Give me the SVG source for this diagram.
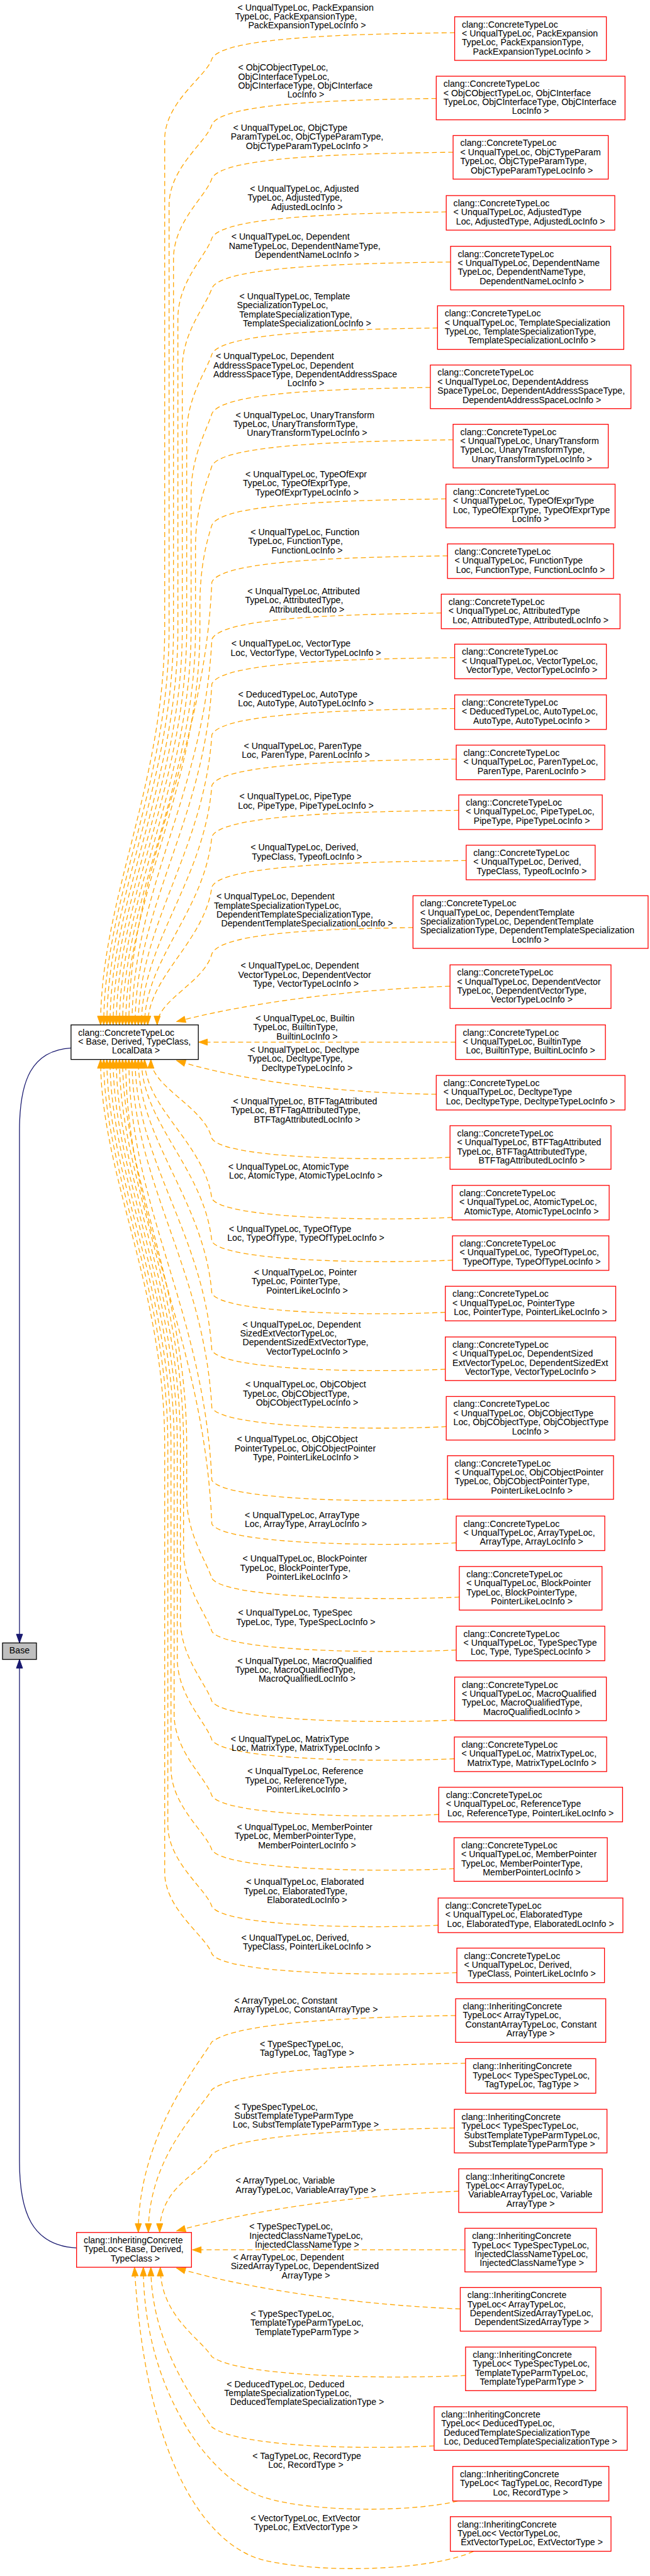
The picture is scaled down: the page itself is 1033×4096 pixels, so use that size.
<svg xmlns="http://www.w3.org/2000/svg" width="1033" height="4096" viewBox="0 0 1033 4096" xml:space="preserve">
<style>
text{font-family:"Liberation Sans",Arial,Helvetica,sans-serif;font-size:14.2px;fill:#000;white-space:pre}
.m{text-anchor:middle}
.n rect{fill:#fff;stroke:#f00;stroke-width:1.3}
.k rect{fill:#fff;stroke:#000;stroke-width:1.3}
.b rect{fill:#bfbfbf;stroke:#000;stroke-width:1.3}
.e{fill:none;stroke:#ffa500;stroke-width:1.3;stroke-dasharray:8,5;marker-end:url(#ao)}
.s{fill:none;stroke:#191970;stroke-width:1.3;marker-end:url(#ab)}
</style>
<defs>
<marker id="ao" markerUnits="userSpaceOnUse" markerWidth="16" markerHeight="12" viewBox="0 0 16 12" refX="15" refY="6" orient="auto"><path d="M1,1 L15,6 L1,11 z" fill="#ffa500" stroke="#ffa500" stroke-width="1" stroke-dasharray="none"/></marker>
<marker id="ab" markerUnits="userSpaceOnUse" markerWidth="16" markerHeight="12" viewBox="0 0 16 12" refX="15" refY="6" orient="auto"><path d="M1,1 L15,6 L1,11 z" fill="#191970" stroke="#191970" stroke-width="1"/></marker>
</defs>
<g transform="scale(0.999)">
<g id="edges">
<path class="s" d="M113,1668 C50,1672 31,1720 31,1800 L31,2615"/>
<path class="s" d="M121.8,3578 C50,3574 31,3520 31,3440 L31,2641.2"/>
<path class="e" d="M723.3,52 C597.6,54 352,56 337,94 C328,122 262,162 262,222 L262,1000 C262,1250 160,1430 160,1631.3"/>
<path class="e" d="M694,156.7 C580,158.7 352,160.7 337,198.7 C328,226.7 269,266.7 269,326.7 L269,1000 C269,1250 165,1430 165,1631.3"/>
<path class="e" d="M720.8,242.3 C596.1,244.3 352,246.3 337,284.3 C328,312.3 276,352.3 276,412.3 L276,1000 C276,1250 170,1430 170,1631.3"/>
<path class="e" d="M709.9,337.3 C589.5,339.3 352,341.3 337,379.3 C328,407.3 283,447.3 283,507.3 L283,1000 C283,1250 175,1430 175,1631.3"/>
<path class="e" d="M716.8,417 C593.7,419 352,421 337,459 C328,487 290,527 290,587 L290,1000 C290,1250 180,1430 180,1631.3"/>
<path class="e" d="M696,522 C581.2,524 352,526 337,564 C328,592 297,632 297,692 L297,1000 C297,1250 185,1430 185,1631.3"/>
<path class="e" d="M684.6,616.7 C574.4,618.7 352,620.7 337,658.7 C328,686.7 304,726.7 304,786.7 L304,1000 C304,1250 190,1430 190,1631.3"/>
<path class="e" d="M720.8,700 C596.1,702 352,704 337,742 C328,770 311,810 311,870 L311,1000 C311,1250 195,1430 195,1631.3"/>
<path class="e" d="M709.4,794 C589.2,796 352,798 337,836 C328,864 318,904 318,964 L318,1000 C318,1250 200,1430 200,1631.3"/>
<path class="e" d="M711.9,884.7 C590.7,886.7 352,888.7 337,926.7 C325,1208.5 205,1384.7 205,1631.3"/>
<path class="e" d="M702,975.7 C584.8,977.7 352,979.7 337,1017.7 C325,1263.1 210,1416.5 210,1631.3"/>
<path class="e" d="M723.3,1046.7 C597.6,1048.7 352,1050.7 337,1088.7 C325,1305.7 215,1441.4 215,1631.3"/>
<path class="e" d="M723.3,1127.7 C597.6,1129.7 352,1131.7 337,1169.7 C325,1354.3 220,1469.7 220,1631.3"/>
<path class="e" d="M725.8,1208.3 C599.1,1210.3 352,1212.3 337,1250.3 C325,1402.7 225,1497.9 225,1631.3"/>
<path class="e" d="M729.7,1289.7 C601.4,1291.7 352,1293.7 337,1331.7 C325,1451.5 230,1526.4 230,1631.3"/>
<path class="e" d="M741.6,1369.7 C608.6,1371.7 352,1373.7 337,1411.7 C325,1499.5 235,1554.4 235,1631.3"/>
<path class="e" d="M657,1476.3 C557.4,1478.3 352,1480.3 337,1518.3 C325,1563.5 250,1591.8 250,1631.3"/>
<path class="e" d="M715.9,1569.7 C560,1575 400,1595 281,1626"/>
<path class="e" d="M724.8,1658.7 L316,1658.7"/>
<path class="e" d="M694,1741.7 C560,1740 400,1725 281,1688"/>
<path class="e" d="M715.9,1842 C593.1,1848 355,1844 337,1812 C325,1761.7 240,1730.3 240,1686.3"/>
<path class="e" d="M719.3,1937.7 C595.2,1943.7 355,1939.7 337,1907.7 C325,1819.1 230,1763.8 230,1686.3"/>
<path class="e" d="M719.8,2005.7 C595.5,2011.7 355,2007.7 337,1975.7 C325,1860 225,1787.6 225,1686.3"/>
<path class="e" d="M708.4,2088.7 C588.6,2094.7 355,2090.7 337,2058.7 C325,1909.7 220,1816.6 220,1686.3"/>
<path class="e" d="M708.4,2179.3 C588.6,2185.3 355,2181.3 337,2149.3 C325,1964.1 215,1848.4 215,1686.3"/>
<path class="e" d="M709.9,2270.7 C589.5,2276.7 355,2272.7 337,2240.7 C325,2019 210,1880.3 210,1686.3"/>
<path class="e" d="M711.9,2386 C590.7,2392 355,2388 337,2356 C325,2088.1 205,1920.7 205,1686.3"/>
<path class="e" d="M725.8,2455.7 C599.1,2461.7 355,2457.7 337,2425.7 C325,2130 200,1945.1 200,1686.3"/>
<path class="e" d="M730.7,2542 C602,2548 355,2544 337,2512 C328,2484 297,2442 297,2382 L297,2300 C297,2050 195,1870 195,1686.3"/>
<path class="e" d="M725.8,2626.3 C599.1,2632.3 355,2628.3 337,2596.3 C328,2568.3 292,2526.3 292,2466.3 L292,2300 C292,2050 190,1870 190,1686.3"/>
<path class="e" d="M723.3,2737.7 C597.6,2743.7 355,2739.7 337,2707.7 C328,2679.7 287,2637.7 287,2577.7 L287,2300 C287,2050 185,1870 185,1686.3"/>
<path class="e" d="M722.8,2799.3 C597.3,2805.3 355,2801.3 337,2769.3 C328,2741.3 282,2699.3 282,2639.3 L282,2300 C282,2050 180,1870 180,1686.3"/>
<path class="e" d="M698,2888 C582.4,2894 355,2890 337,2858 C328,2830 277,2788 277,2728 L277,2300 C277,2050 175,1870 175,1686.3"/>
<path class="e" d="M722.3,2974.3 C597,2980.3 355,2976.3 337,2944.3 C328,2916.3 272,2874.3 272,2814.3 L272,2300 C272,2050 170,1870 170,1686.3"/>
<path class="e" d="M697,3064.3 C581.8,3070.3 355,3066.3 337,3034.3 C328,3006.3 267,2964.3 267,2904.3 L267,2300 C267,2050 165,1870 165,1686.3"/>
<path class="e" d="M726.8,3139.7 C599.7,3145.7 355,3141.7 337,3109.7 C328,3081.7 262,3039.7 262,2979.7 L262,2300 C262,2050 160,1870 160,1686.3"/>
<path class="e" d="M724.8,3208 C598.5,3210 380,3216 337,3250 C318,3283 220,3397.9 220,3553.3"/>
<path class="e" d="M740.6,3284 C608,3286 380,3292 337,3326 C318,3359 236,3432.1 236,3553.3"/>
<path class="e" d="M722.8,3387 C597.3,3389 380,3395 337,3429 C318,3462 254,3478.5 254,3553.3"/>
<path class="e" d="M729.7,3487.7 C600,3492 420,3512 281,3551"/>
<path class="e" d="M739.6,3581 L306,3581"/>
<path class="e" d="M732.2,3675 C600,3670 420,3650 281,3610"/>
<path class="e" d="M740.6,3781 C608,3787 380,3783 337,3751 C318,3721 255,3686.2 255,3608.7"/>
<path class="e" d="M690.6,3893 C578,3899 380,3895 337,3863 C318,3833 240,3736.6 240,3608.7"/>
<path class="e" d="M728,3980.7 C660,3998 500,4000 420,3975 C330,3945 228,3800 228,3608.7"/>
<path class="e" d="M753,4061 C690,4090 520,4098 420,4075 C320,4050 230,3900 214,3608.7"/>
</g>
<g id="labels">
<text x="374" y="16.7"> &lt; UnqualTypeLoc, PackExpansion</text><text x="374" y="31.1">TypeLoc, PackExpansionType,</text><text class="m" x="486.5" y="45.5"> PackExpansionTypeLocInfo &gt;</text>
<text x="375" y="112.3"> &lt; ObjCObjectTypeLoc,</text><text x="375" y="126.7"> ObjCInterfaceTypeLoc,</text><text x="375" y="141.1"> ObjCInterfaceType, ObjCInterface</text><text class="m" x="486.5" y="155.5">LocInfo &gt;</text>
<text x="367" y="208.3"> &lt; UnqualTypeLoc, ObjCType</text><text x="367" y="222.7">ParamTypeLoc, ObjCTypeParamType,</text><text class="m" x="486.5" y="237.1"> ObjCTypeParamTypeLocInfo &gt;</text>
<text x="393.8" y="305.3"> &lt; UnqualTypeLoc, Adjusted</text><text x="393.8" y="319.7">TypeLoc, AdjustedType,</text><text class="m" x="486.5" y="334.1"> AdjustedLocInfo &gt;</text>
<text x="364.1" y="381.7"> &lt; UnqualTypeLoc, Dependent</text><text x="364.1" y="396.1">NameTypeLoc, DependentNameType,</text><text class="m" x="486.5" y="410.5"> DependentNameLocInfo &gt;</text>
<text x="376.9" y="476.3"> &lt; UnqualTypeLoc, Template</text><text x="376.9" y="490.7">SpecializationTypeLoc,</text><text x="376.9" y="505.1"> TemplateSpecializationType,</text><text class="m" x="486.5" y="519.5"> TemplateSpecializationLocInfo &gt;</text>
<text x="339.3" y="571.7"> &lt; UnqualTypeLoc, Dependent</text><text x="339.3" y="586.1">AddressSpaceTypeLoc, Dependent</text><text x="339.3" y="600.5">AddressSpaceType, DependentAddressSpace</text><text class="m" x="486.5" y="614.9">LocInfo &gt;</text>
<text x="371" y="665.3"> &lt; UnqualTypeLoc, UnaryTransform</text><text x="371" y="679.7">TypeLoc, UnaryTransformType,</text><text class="m" x="486.5" y="694.1"> UnaryTransformTypeLocInfo &gt;</text>
<text x="386.4" y="759.7"> &lt; UnqualTypeLoc, TypeOfExpr</text><text x="386.4" y="774.1">TypeLoc, TypeOfExprType,</text><text class="m" x="486.5" y="788.5"> TypeOfExprTypeLocInfo &gt;</text>
<text x="394.8" y="851.7"> &lt; UnqualTypeLoc, Function</text><text x="394.8" y="866.1">TypeLoc, FunctionType,</text><text class="m" x="486.5" y="880.5"> FunctionLocInfo &gt;</text>
<text x="389.8" y="945.7"> &lt; UnqualTypeLoc, Attributed</text><text x="389.8" y="960.1">TypeLoc, AttributedType,</text><text class="m" x="486.5" y="974.5"> AttributedLocInfo &gt;</text>
<text x="364.1" y="1029.3"> &lt; UnqualTypeLoc, VectorType</text><text class="m" x="486.5" y="1043.7">Loc, VectorType, VectorTypeLocInfo &gt;</text>
<text x="375" y="1109.7"> &lt; DeducedTypeLoc, AutoType</text><text class="m" x="486.5" y="1124.1">Loc, AutoType, AutoTypeLocInfo &gt;</text>
<text x="383.9" y="1191.7"> &lt; UnqualTypeLoc, ParenType</text><text class="m" x="486.5" y="1206.1">Loc, ParenType, ParenLocInfo &gt;</text>
<text x="376.9" y="1272.7"> &lt; UnqualTypeLoc, PipeType</text><text class="m" x="486.5" y="1287.1">Loc, PipeType, PipeTypeLocInfo &gt;</text>
<text x="394.8" y="1353.7"> &lt; UnqualTypeLoc, Derived,</text><text class="m" x="486.5" y="1368.1"> TypeClass, TypeofLocInfo &gt;</text>
<text x="340.3" y="1431.7"> &lt; UnqualTypeLoc, Dependent</text><text x="340.3" y="1446.1">TemplateSpecializationTypeLoc,</text><text x="340.3" y="1460.5"> DependentTemplateSpecializationType,</text><text class="m" x="486.5" y="1474.9"> DependentTemplateSpecializationLocInfo &gt;</text>
<text x="378.9" y="1541.7"> &lt; UnqualTypeLoc, Dependent</text><text x="378.9" y="1556.1">VectorTypeLoc, DependentVector</text><text class="m" x="486.5" y="1570.5">Type, VectorTypeLocInfo &gt;</text>
<text x="402.7" y="1625.7"> &lt; UnqualTypeLoc, Builtin</text><text x="402.7" y="1640.1">TypeLoc, BuiltinType,</text><text class="m" x="486.5" y="1654.5"> BuiltinLocInfo &gt;</text>
<text x="393.8" y="1675.7"> &lt; UnqualTypeLoc, Decltype</text><text x="393.8" y="1690.1">TypeLoc, DecltypeType,</text><text class="m" x="486.5" y="1704.5"> DecltypeTypeLocInfo &gt;</text>
<text x="367" y="1757.7"> &lt; UnqualTypeLoc, BTFTagAttributed</text><text x="367" y="1772.1">TypeLoc, BTFTagAttributedType,</text><text class="m" x="486.5" y="1786.5"> BTFTagAttributedLocInfo &gt;</text>
<text x="359.1" y="1861.7"> &lt; UnqualTypeLoc, AtomicType</text><text class="m" x="486.5" y="1876.1">Loc, AtomicType, AtomicTypeLocInfo &gt;</text>
<text x="360.1" y="1961"> &lt; UnqualTypeLoc, TypeOfType</text><text class="m" x="486.5" y="1975.4">Loc, TypeOfType, TypeOfTypeLocInfo &gt;</text>
<text x="400.2" y="2030"> &lt; UnqualTypeLoc, Pointer</text><text x="400.2" y="2044.4">TypeLoc, PointerType,</text><text class="m" x="486.5" y="2058.8"> PointerLikeLocInfo &gt;</text>
<text x="381.9" y="2112.7"> &lt; UnqualTypeLoc, Dependent</text><text x="381.9" y="2127.1">SizedExtVectorTypeLoc,</text><text x="381.9" y="2141.5"> DependentSizedExtVectorType,</text><text class="m" x="486.5" y="2155.9"> VectorTypeLocInfo &gt;</text>
<text x="386.4" y="2208.7"> &lt; UnqualTypeLoc, ObjCObject</text><text x="386.4" y="2223.1">TypeLoc, ObjCObjectType,</text><text class="m" x="486.5" y="2237.5"> ObjCObjectTypeLocInfo &gt;</text>
<text x="373" y="2295.7"> &lt; UnqualTypeLoc, ObjCObject</text><text x="373" y="2310.1">PointerTypeLoc, ObjCObjectPointer</text><text class="m" x="486.5" y="2324.5">Type, PointerLikeLocInfo &gt;</text>
<text x="385.4" y="2416.3"> &lt; UnqualTypeLoc, ArrayType</text><text class="m" x="486.5" y="2430.7">Loc, ArrayType, ArrayLocInfo &gt;</text>
<text x="381.9" y="2485.7"> &lt; UnqualTypeLoc, BlockPointer</text><text x="381.9" y="2500.1">TypeLoc, BlockPointerType,</text><text class="m" x="486.5" y="2514.5"> PointerLikeLocInfo &gt;</text>
<text x="375" y="2571.7"> &lt; UnqualTypeLoc, TypeSpec</text><text class="m" x="486.5" y="2586.1">TypeLoc, Type, TypeSpecLocInfo &gt;</text>
<text x="374" y="2648.3"> &lt; UnqualTypeLoc, MacroQualified</text><text x="374" y="2662.7">TypeLoc, MacroQualifiedType,</text><text class="m" x="486.5" y="2677.1"> MacroQualifiedLocInfo &gt;</text>
<text x="363.1" y="2772.7"> &lt; UnqualTypeLoc, MatrixType</text><text class="m" x="486.5" y="2787.1">Loc, MatrixType, MatrixTypeLocInfo &gt;</text>
<text x="389.8" y="2824.3"> &lt; UnqualTypeLoc, Reference</text><text x="389.8" y="2838.7">TypeLoc, ReferenceType,</text><text class="m" x="486.5" y="2853.1"> PointerLikeLocInfo &gt;</text>
<text x="373" y="2912.7"> &lt; UnqualTypeLoc, MemberPointer</text><text x="373" y="2927.1">TypeLoc, MemberPointerType,</text><text class="m" x="486.5" y="2941.5"> MemberPointerLocInfo &gt;</text>
<text x="387.8" y="3000.3"> &lt; UnqualTypeLoc, Elaborated</text><text x="387.8" y="3014.7">TypeLoc, ElaboratedType,</text><text class="m" x="486.5" y="3029.1"> ElaboratedLocInfo &gt;</text>
<text x="379.9" y="3089"> &lt; UnqualTypeLoc, Derived,</text><text class="m" x="486.5" y="3103.4"> TypeClass, PointerLikeLocInfo &gt;</text>
<text x="369" y="3189"> &lt; ArrayTypeLoc, Constant</text><text class="m" x="486.5" y="3203.4">ArrayTypeLoc, ConstantArrayType &gt;</text>
<text x="409.6" y="3258"> &lt; TypeSpecTypeLoc,</text><text class="m" x="486.5" y="3272.4"> TagTypeLoc, TagType &gt;</text>
<text x="369" y="3358"> &lt; TypeSpecTypeLoc,</text><text x="369" y="3372.4"> SubstTemplateTypeParmType</text><text class="m" x="486.5" y="3386.8">Loc, SubstTemplateTypeParmType &gt;</text>
<text x="371" y="3475.7"> &lt; ArrayTypeLoc, Variable</text><text class="m" x="486.5" y="3490.1">ArrayTypeLoc, VariableArrayType &gt;</text>
<text x="392.8" y="3549"> &lt; TypeSpecTypeLoc,</text><text x="392.8" y="3563.4"> InjectedClassNameTypeLoc,</text><text class="m" x="486.5" y="3577.8"> InjectedClassNameType &gt;</text>
<text x="367" y="3597.7"> &lt; ArrayTypeLoc, Dependent</text><text x="367" y="3612.1">SizedArrayTypeLoc, DependentSized</text><text class="m" x="486.5" y="3626.5">ArrayType &gt;</text>
<text x="394.8" y="3687.7"> &lt; TypeSpecTypeLoc,</text><text x="394.8" y="3702.1"> TemplateTypeParmTypeLoc,</text><text class="m" x="486.5" y="3716.5"> TemplateTypeParmType &gt;</text>
<text x="356.6" y="3799.3"> &lt; DeducedTypeLoc, Deduced</text><text x="356.6" y="3813.7">TemplateSpecializationTypeLoc,</text><text class="m" x="486.5" y="3828.1"> DeducedTemplateSpecializationType &gt;</text>
<text x="397.7" y="3913.7"> &lt; TagTypeLoc, RecordType</text><text class="m" x="486.5" y="3928.1">Loc, RecordType &gt;</text>
<text x="394.8" y="4012.7"> &lt; VectorTypeLoc, ExtVector</text><text class="m" x="486.5" y="4027.1">TypeLoc, ExtVectorType &gt;</text>
</g>
<g id="base" class="b"><rect x="4" y="2615" width="54" height="26.2"/><text class="m" x="31" y="2632">Base</text></g>
<g id="concrete" class="k"><rect x="113" y="1631.3" width="202.5" height="55"/><text x="124.4" y="1648.3">clang::ConcreteTypeLoc</text><text x="124.4" y="1662.7">&lt; Base, Derived, TypeClass,</text><text class="m" x="214.3" y="1677.1"> LocalData &gt;</text></g>
<g id="inheriting" class="n"><rect x="121.8" y="3553.3" width="182.8" height="55.4"/><text x="133.2" y="3570.3">clang::InheritingConcrete</text><text x="133.2" y="3584.7">TypeLoc&lt; Base, Derived,</text><text class="m" x="213.2" y="3599.1"> TypeClass &gt;</text></g>
<g id="n1" class="n"><rect x="723.3" y="26.7" width="241.3" height="69.4"/><text x="734.7" y="43.7">clang::ConcreteTypeLoc</text><text x="734.7" y="58.1">&lt; UnqualTypeLoc, PackExpansion</text><text x="734.7" y="72.5">TypeLoc, PackExpansionType,</text><text class="m" x="844" y="86.9"> PackExpansionTypeLocInfo &gt;</text></g>
<g id="n2" class="n"><rect x="694" y="121.3" width="300.3" height="69.4"/><text x="705.4" y="138.3">clang::ConcreteTypeLoc</text><text x="705.4" y="152.7">&lt; ObjCObjectTypeLoc, ObjCInterface</text><text x="705.4" y="167.1">TypeLoc, ObjCInterfaceType, ObjCInterface</text><text class="m" x="844" y="181.5">LocInfo &gt;</text></g>
<g id="n3" class="n"><rect x="720.8" y="215.7" width="246.8" height="69.4"/><text x="732.2" y="232.7">clang::ConcreteTypeLoc</text><text x="732.2" y="247.1">&lt; UnqualTypeLoc, ObjCTypeParam</text><text x="732.2" y="261.5">TypeLoc, ObjCTypeParamType,</text><text class="m" x="844" y="275.9"> ObjCTypeParamTypeLocInfo &gt;</text></g>
<g id="n4" class="n"><rect x="709.9" y="311.3" width="268.1" height="55"/><text x="721.3" y="328.3">clang::ConcreteTypeLoc</text><text x="721.3" y="342.7">&lt; UnqualTypeLoc, AdjustedType</text><text class="m" x="844" y="357.1">Loc, AdjustedType, AdjustedLocInfo &gt;</text></g>
<g id="n5" class="n"><rect x="716.8" y="392" width="254.7" height="69.4"/><text x="728.2" y="409">clang::ConcreteTypeLoc</text><text x="728.2" y="423.4">&lt; UnqualTypeLoc, DependentName</text><text x="728.2" y="437.8">TypeLoc, DependentNameType,</text><text class="m" x="844" y="452.2"> DependentNameLocInfo &gt;</text></g>
<g id="n6" class="n"><rect x="696" y="486.7" width="296.3" height="69.4"/><text x="707.4" y="503.7">clang::ConcreteTypeLoc</text><text x="707.4" y="518.1">&lt; UnqualTypeLoc, TemplateSpecialization</text><text x="707.4" y="532.5">TypeLoc, TemplateSpecializationType,</text><text class="m" x="844" y="546.9"> TemplateSpecializationLocInfo &gt;</text></g>
<g id="n7" class="n"><rect x="684.6" y="581" width="319.1" height="69.4"/><text x="696" y="598">clang::ConcreteTypeLoc</text><text x="696" y="612.4">&lt; UnqualTypeLoc, DependentAddress</text><text x="696" y="626.8">SpaceTypeLoc, DependentAddressSpaceType,</text><text class="m" x="844" y="641.2"> DependentAddressSpaceLocInfo &gt;</text></g>
<g id="n8" class="n"><rect x="720.8" y="675.3" width="246.8" height="69.4"/><text x="732.2" y="692.3">clang::ConcreteTypeLoc</text><text x="732.2" y="706.7">&lt; UnqualTypeLoc, UnaryTransform</text><text x="732.2" y="721.1">TypeLoc, UnaryTransformType,</text><text class="m" x="844" y="735.5"> UnaryTransformTypeLocInfo &gt;</text></g>
<g id="n9" class="n"><rect x="709.4" y="770.7" width="269.1" height="69.4"/><text x="720.8" y="787.7">clang::ConcreteTypeLoc</text><text x="720.8" y="802.1">&lt; UnqualTypeLoc, TypeOfExprType</text><text x="720.8" y="816.5">Loc, TypeOfExprType, TypeOfExprType</text><text class="m" x="844" y="830.9">LocInfo &gt;</text></g>
<g id="n10" class="n"><rect x="711.9" y="865.7" width="264.1" height="55"/><text x="723.3" y="882.7">clang::ConcreteTypeLoc</text><text x="723.3" y="897.1">&lt; UnqualTypeLoc, FunctionType</text><text class="m" x="844" y="911.5">Loc, FunctionType, FunctionLocInfo &gt;</text></g>
<g id="n11" class="n"><rect x="702" y="945.7" width="284.4" height="55"/><text x="713.4" y="962.7">clang::ConcreteTypeLoc</text><text x="713.4" y="977.1">&lt; UnqualTypeLoc, AttributedType</text><text class="m" x="844" y="991.5">Loc, AttributedType, AttributedLocInfo &gt;</text></g>
<g id="n12" class="n"><rect x="723.3" y="1025.3" width="241.3" height="55"/><text x="734.7" y="1042.3">clang::ConcreteTypeLoc</text><text x="734.7" y="1056.7">&lt; UnqualTypeLoc, VectorTypeLoc,</text><text class="m" x="844" y="1071.1"> VectorType, VectorTypeLocInfo &gt;</text></g>
<g id="n13" class="n"><rect x="723.3" y="1106" width="241.3" height="55"/><text x="734.7" y="1123">clang::ConcreteTypeLoc</text><text x="734.7" y="1137.4">&lt; DeducedTypeLoc, AutoTypeLoc,</text><text class="m" x="844" y="1151.8"> AutoType, AutoTypeLocInfo &gt;</text></g>
<g id="n14" class="n"><rect x="725.8" y="1186" width="236.3" height="55"/><text x="737.2" y="1203">clang::ConcreteTypeLoc</text><text x="737.2" y="1217.4">&lt; UnqualTypeLoc, ParenTypeLoc,</text><text class="m" x="844" y="1231.8"> ParenType, ParenLocInfo &gt;</text></g>
<g id="n15" class="n"><rect x="729.7" y="1265.3" width="228.4" height="55"/><text x="741.1" y="1282.3">clang::ConcreteTypeLoc</text><text x="741.1" y="1296.7">&lt; UnqualTypeLoc, PipeTypeLoc,</text><text class="m" x="844" y="1311.1"> PipeType, PipeTypeLocInfo &gt;</text></g>
<g id="n16" class="n"><rect x="741.6" y="1345.3" width="205.2" height="55"/><text x="753" y="1362.3">clang::ConcreteTypeLoc</text><text x="753" y="1376.7">&lt; UnqualTypeLoc, Derived,</text><text class="m" x="844" y="1391.1"> TypeClass, TypeofLocInfo &gt;</text></g>
<g id="n17" class="n"><rect x="657" y="1425.7" width="374" height="83.8"/><text x="668.4" y="1442.7">clang::ConcreteTypeLoc</text><text x="668.4" y="1457.1">&lt; UnqualTypeLoc, DependentTemplate</text><text x="668.4" y="1471.5">SpecializationTypeLoc, DependentTemplate</text><text x="668.4" y="1485.9">SpecializationType, DependentTemplateSpecialization</text><text class="m" x="844" y="1500.3">LocInfo &gt;</text></g>
<g id="n18" class="n"><rect x="715.9" y="1535.7" width="256.1" height="69.4"/><text x="727.3" y="1552.7">clang::ConcreteTypeLoc</text><text x="727.3" y="1567.1">&lt; UnqualTypeLoc, DependentVector</text><text x="727.3" y="1581.5">TypeLoc, DependentVectorType,</text><text class="m" x="844" y="1595.9"> VectorTypeLocInfo &gt;</text></g>
<g id="n19" class="n"><rect x="724.8" y="1631.3" width="238.3" height="55"/><text x="736.2" y="1648.3">clang::ConcreteTypeLoc</text><text x="736.2" y="1662.7">&lt; UnqualTypeLoc, BuiltinType</text><text class="m" x="844" y="1677.1">Loc, BuiltinType, BuiltinLocInfo &gt;</text></g>
<g id="n20" class="n"><rect x="694" y="1711.7" width="300.3" height="55"/><text x="705.4" y="1728.7">clang::ConcreteTypeLoc</text><text x="705.4" y="1743.1">&lt; UnqualTypeLoc, DecltypeType</text><text class="m" x="844" y="1757.5">Loc, DecltypeType, DecltypeTypeLocInfo &gt;</text></g>
<g id="n21" class="n"><rect x="715.9" y="1791.7" width="256.1" height="69.4"/><text x="727.3" y="1808.7">clang::ConcreteTypeLoc</text><text x="727.3" y="1823.1">&lt; UnqualTypeLoc, BTFTagAttributed</text><text x="727.3" y="1837.5">TypeLoc, BTFTagAttributedType,</text><text class="m" x="844" y="1851.9"> BTFTagAttributedLocInfo &gt;</text></g>
<g id="n22" class="n"><rect x="719.3" y="1886.7" width="249.8" height="55"/><text x="730.7" y="1903.7">clang::ConcreteTypeLoc</text><text x="730.7" y="1918.1">&lt; UnqualTypeLoc, AtomicTypeLoc,</text><text class="m" x="844" y="1932.5"> AtomicType, AtomicTypeLocInfo &gt;</text></g>
<g id="n23" class="n"><rect x="719.8" y="1967" width="248.8" height="55"/><text x="731.2" y="1984">clang::ConcreteTypeLoc</text><text x="731.2" y="1998.4">&lt; UnqualTypeLoc, TypeOfTypeLoc,</text><text class="m" x="844" y="2012.8"> TypeOfType, TypeOfTypeLocInfo &gt;</text></g>
<g id="n24" class="n"><rect x="708.4" y="2047.3" width="271.1" height="55"/><text x="719.8" y="2064.3">clang::ConcreteTypeLoc</text><text x="719.8" y="2078.7">&lt; UnqualTypeLoc, PointerType</text><text class="m" x="844" y="2093.1">Loc, PointerType, PointerLikeLocInfo &gt;</text></g>
<g id="n25" class="n"><rect x="708.4" y="2128" width="271.1" height="69.4"/><text x="719.8" y="2145">clang::ConcreteTypeLoc</text><text x="719.8" y="2159.4">&lt; UnqualTypeLoc, DependentSized</text><text x="719.8" y="2173.8">ExtVectorTypeLoc, DependentSizedExt</text><text class="m" x="844" y="2188.2">VectorType, VectorTypeLocInfo &gt;</text></g>
<g id="n26" class="n"><rect x="709.9" y="2222.7" width="268.1" height="69.4"/><text x="721.3" y="2239.7">clang::ConcreteTypeLoc</text><text x="721.3" y="2254.1">&lt; UnqualTypeLoc, ObjCObjectType</text><text x="721.3" y="2268.5">Loc, ObjCObjectType, ObjCObjectType</text><text class="m" x="844" y="2282.9">LocInfo &gt;</text></g>
<g id="n27" class="n"><rect x="711.9" y="2317" width="264.1" height="69.4"/><text x="723.3" y="2334">clang::ConcreteTypeLoc</text><text x="723.3" y="2348.4">&lt; UnqualTypeLoc, ObjCObjectPointer</text><text x="723.3" y="2362.8">TypeLoc, ObjCObjectPointerType,</text><text class="m" x="844" y="2377.2"> PointerLikeLocInfo &gt;</text></g>
<g id="n28" class="n"><rect x="725.8" y="2413" width="236.3" height="55"/><text x="737.2" y="2430">clang::ConcreteTypeLoc</text><text x="737.2" y="2444.4">&lt; UnqualTypeLoc, ArrayTypeLoc,</text><text class="m" x="844" y="2458.8"> ArrayType, ArrayLocInfo &gt;</text></g>
<g id="n29" class="n"><rect x="730.7" y="2493.3" width="227" height="69.4"/><text x="742.1" y="2510.3">clang::ConcreteTypeLoc</text><text x="742.1" y="2524.7">&lt; UnqualTypeLoc, BlockPointer</text><text x="742.1" y="2539.1">TypeLoc, BlockPointerType,</text><text class="m" x="844" y="2553.5"> PointerLikeLocInfo &gt;</text></g>
<g id="n30" class="n"><rect x="725.8" y="2588.3" width="236.3" height="55"/><text x="737.2" y="2605.3">clang::ConcreteTypeLoc</text><text x="737.2" y="2619.7">&lt; UnqualTypeLoc, TypeSpecType</text><text class="m" x="844" y="2634.1">Loc, Type, TypeSpecLocInfo &gt;</text></g>
<g id="n31" class="n"><rect x="723.3" y="2669.3" width="241.3" height="69.4"/><text x="734.7" y="2686.3">clang::ConcreteTypeLoc</text><text x="734.7" y="2700.7">&lt; UnqualTypeLoc, MacroQualified</text><text x="734.7" y="2715.1">TypeLoc, MacroQualifiedType,</text><text class="m" x="844" y="2729.5"> MacroQualifiedLocInfo &gt;</text></g>
<g id="n32" class="n"><rect x="722.8" y="2764.7" width="242.3" height="55"/><text x="734.2" y="2781.7">clang::ConcreteTypeLoc</text><text x="734.2" y="2796.1">&lt; UnqualTypeLoc, MatrixTypeLoc,</text><text class="m" x="844" y="2810.5"> MatrixType, MatrixTypeLocInfo &gt;</text></g>
<g id="n33" class="n"><rect x="698" y="2844.7" width="292.4" height="55"/><text x="709.4" y="2861.7">clang::ConcreteTypeLoc</text><text x="709.4" y="2876.1">&lt; UnqualTypeLoc, ReferenceType</text><text class="m" x="844" y="2890.5">Loc, ReferenceType, PointerLikeLocInfo &gt;</text></g>
<g id="n34" class="n"><rect x="722.3" y="2925" width="243.8" height="69.4"/><text x="733.7" y="2942">clang::ConcreteTypeLoc</text><text x="733.7" y="2956.4">&lt; UnqualTypeLoc, MemberPointer</text><text x="733.7" y="2970.8">TypeLoc, MemberPointerType,</text><text class="m" x="844" y="2985.2"> MemberPointerLocInfo &gt;</text></g>
<g id="n35" class="n"><rect x="697" y="3021" width="293.9" height="55"/><text x="708.4" y="3038">clang::ConcreteTypeLoc</text><text x="708.4" y="3052.4">&lt; UnqualTypeLoc, ElaboratedType</text><text class="m" x="844" y="3066.8">Loc, ElaboratedType, ElaboratedLocInfo &gt;</text></g>
<g id="n36" class="n"><rect x="726.8" y="3100.7" width="234.8" height="55"/><text x="738.2" y="3117.7">clang::ConcreteTypeLoc</text><text x="738.2" y="3132.1">&lt; UnqualTypeLoc, Derived,</text><text class="m" x="844" y="3146.5"> TypeClass, PointerLikeLocInfo &gt;</text></g>
<g id="i1" class="n"><rect x="724.8" y="3181.3" width="238.8" height="69.4"/><text x="736.2" y="3198.3">clang::InheritingConcrete</text><text x="736.2" y="3212.7">TypeLoc&lt; ArrayTypeLoc,</text><text x="736.2" y="3227.1"> ConstantArrayTypeLoc, Constant</text><text class="m" x="844" y="3241.5">ArrayType &gt;</text></g>
<g id="i2" class="n"><rect x="740.6" y="3276.7" width="207.2" height="55"/><text x="752" y="3293.7">clang::InheritingConcrete</text><text x="752" y="3308.1">TypeLoc&lt; TypeSpecTypeLoc,</text><text class="m" x="844" y="3322.5"> TagTypeLoc, TagType &gt;</text></g>
<g id="i3" class="n"><rect x="722.8" y="3357.3" width="242.8" height="69.4"/><text x="734.2" y="3374.3">clang::InheritingConcrete</text><text x="734.2" y="3388.7">TypeLoc&lt; TypeSpecTypeLoc,</text><text x="734.2" y="3403.1"> SubstTemplateTypeParmTypeLoc,</text><text class="m" x="844" y="3417.5"> SubstTemplateTypeParmType &gt;</text></g>
<g id="i4" class="n"><rect x="729.7" y="3452" width="228.4" height="69.4"/><text x="741.1" y="3469">clang::InheritingConcrete</text><text x="741.1" y="3483.4">TypeLoc&lt; ArrayTypeLoc,</text><text x="741.1" y="3497.8"> VariableArrayTypeLoc, Variable</text><text class="m" x="844" y="3512.2">ArrayType &gt;</text></g>
<g id="i5" class="n"><rect x="739.6" y="3546.7" width="209.1" height="69.4"/><text x="751" y="3563.7">clang::InheritingConcrete</text><text x="751" y="3578.1">TypeLoc&lt; TypeSpecTypeLoc,</text><text x="751" y="3592.5"> InjectedClassNameTypeLoc,</text><text class="m" x="844" y="3606.9"> InjectedClassNameType &gt;</text></g>
<g id="i6" class="n"><rect x="732.2" y="3641" width="224" height="69.4"/><text x="743.6" y="3658">clang::InheritingConcrete</text><text x="743.6" y="3672.4">TypeLoc&lt; ArrayTypeLoc,</text><text x="743.6" y="3686.8"> DependentSizedArrayTypeLoc,</text><text class="m" x="844" y="3701.2"> DependentSizedArrayType &gt;</text></g>
<g id="i7" class="n"><rect x="740.6" y="3735.7" width="207.2" height="69.4"/><text x="752" y="3752.7">clang::InheritingConcrete</text><text x="752" y="3767.1">TypeLoc&lt; TypeSpecTypeLoc,</text><text x="752" y="3781.5"> TemplateTypeParmTypeLoc,</text><text class="m" x="844" y="3795.9"> TemplateTypeParmType &gt;</text></g>
<g id="i8" class="n"><rect x="690.6" y="3830.7" width="307.2" height="69.4"/><text x="702" y="3847.7">clang::InheritingConcrete</text><text x="702" y="3862.1">TypeLoc&lt; DeducedTypeLoc,</text><text x="702" y="3876.5"> DeducedTemplateSpecializationType</text><text class="m" x="844" y="3890.9">Loc, DeducedTemplateSpecializationType &gt;</text></g>
<g id="i9" class="n"><rect x="720.3" y="3925.7" width="248.3" height="55"/><text x="731.7" y="3942.7">clang::InheritingConcrete</text><text x="731.7" y="3957.1">TypeLoc&lt; TagTypeLoc, RecordType</text><text class="m" x="844" y="3971.5">Loc, RecordType &gt;</text></g>
<g id="i10" class="n"><rect x="716.4" y="4005.7" width="255.6" height="55"/><text x="727.8" y="4022.7">clang::InheritingConcrete</text><text x="727.8" y="4037.1">TypeLoc&lt; VectorTypeLoc,</text><text class="m" x="844" y="4051.5"> ExtVectorTypeLoc, ExtVectorType &gt;</text></g>
</g>
</svg>
